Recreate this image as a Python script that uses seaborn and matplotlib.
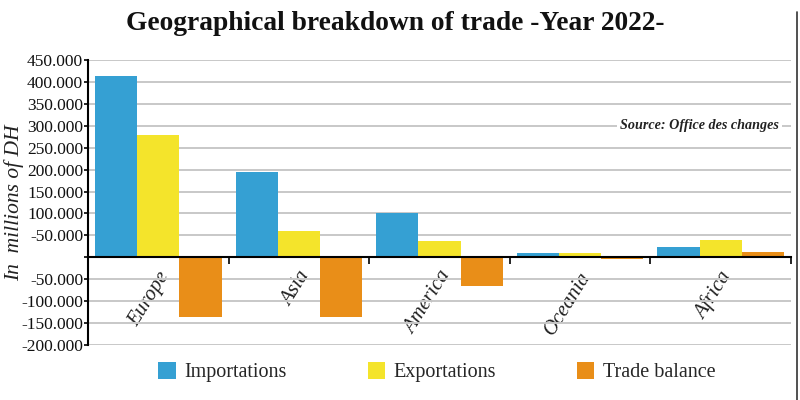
import numpy as np
import pandas as pd
import matplotlib
matplotlib.use("Agg")
import matplotlib.pyplot as plt
import matplotlib.transforms as mtransforms
from matplotlib.lines import Line2D
from matplotlib.patches import Patch
import seaborn as sns

# ---- data (millions of DH) ----
regions = ["Europe", "Asia", "America", "Oceania", "Africa"]
importations = [413000, 195000, 102000, 10000, 23000]
exportations = [278000, 59000, 38000, 9000, 39000]
trade_balance = [-137000, -137000, -65000, -4000, 11000]
series_names = ["Importations", "Exportations", "Trade balance"]
series_colors = ["#35A0D3", "#F4E42B", "#E98E18"]
ytick_values = list(range(-200000, 450001, 50000))
ytick_labels = ["-200.000", "-150.000", "-100.000", "-50.000", "", "-50.000",
                "100.000", "150.000", "200.000", "250.000", "300.000",
                "350.000", "400.000", "450.000"]
title = "Geographical breakdown of trade -Year 2022-"
ylabel = "In  millions of DH"
source = "Source: Office des changes"

df = pd.DataFrame({
    "Region": regions * 3,
    "Series": [series_names[0]] * 5 + [series_names[1]] * 5 + [series_names[2]] * 5,
    "Value": importations + exportations + trade_balance,
})

sns.set_theme(style="white")
plt.rcParams["font.family"] = ["Liberation Serif", "DejaVu Serif"]

fig = plt.figure(figsize=(8, 4), dpi=100)
ax = fig.add_axes([88 / 800, 1 - 345 / 400, (791 - 88) / 800, (345 - 60) / 400])

sns.barplot(data=df, x="Region", y="Value", hue="Series", order=regions,
            hue_order=series_names, palette=series_colors, width=0.9,
            saturation=1, ax=ax, legend=False, linewidth=0)

ax.set_ylim(-200000, 450000)
ax.set_xlim(-0.5, len(regions) - 0.5)
ax.set_yticks(ytick_values)
ax.set_yticklabels(ytick_labels, fontsize=12.5)
ax.yaxis.grid(True, color="#c8c8c8", linewidth=1.4)
ax.xaxis.grid(False)
ax.set_axisbelow(True)

for s in ["top", "right"]:
    ax.spines[s].set_visible(False)
ax.spines["left"].set_color("black")
ax.spines["left"].set_linewidth(1.5)
ax.spines["bottom"].set_position(("data", 0))
ax.spines["bottom"].set_color("black")
ax.spines["bottom"].set_linewidth(1.5)
ax.spines["bottom"].set_zorder(5)

ax.tick_params(axis="y", which="major", left=True, length=3, width=1.2,
               color="black", pad=0.5, labelcolor="#111111")
ax.set_xticks(np.arange(len(regions)))
ax.set_xticks(np.arange(-0.5, len(regions), 1.0), minor=True)
ax.tick_params(axis="x", which="major", length=0, pad=2)
ax.tick_params(axis="x", which="minor", bottom=True, length=5, width=1.2,
               color="black", direction="out")
ax.set_xticklabels(regions, rotation=58, ha="right", va="center",
                   rotation_mode="anchor", fontsize=15, style="italic",
                   color="#222222")
offset = mtransforms.ScaledTranslation(7 / 100, -13 / 100, fig.dpi_scale_trans)
for lbl in ax.get_xticklabels():
    lbl.set_transform(lbl.get_transform() + offset)

ax.set_xlabel("")
ax.set_ylabel(ylabel, fontsize=15.5, style="italic", color="#222222")
ax.yaxis.set_label_coords(-0.091, 0.5)

fig.text(395 / 800, 1 - 24 / 400, title, ha="center", va="center",
         fontsize=19.8, fontweight="bold", color="#111111")

trans = mtransforms.blended_transform_factory(ax.transAxes, ax.transData)
ax.text(0.983, 300000, source, transform=trans, ha="right", va="center",
        fontsize=10.2, style="italic", fontweight="bold", color="#222222",
        bbox=dict(facecolor="white", edgecolor="none", pad=2), zorder=6)

handles = [Patch(facecolor=c, edgecolor="none") for c in series_colors]
fig.legend(handles, series_names, loc="center",
           bbox_to_anchor=(437 / 800, 1 - 372 / 400), ncol=3, frameon=False,
           fontsize=14.5, handlelength=0.85, handleheight=0.95,
           handletextpad=0.45, columnspacing=4.0)

fig.add_artist(Line2D([797 / 800, 797 / 800], [0, 1 - 12 / 400],
                      color="#333333", linewidth=1.2))

fig.savefig("out.png", dpi=100)
